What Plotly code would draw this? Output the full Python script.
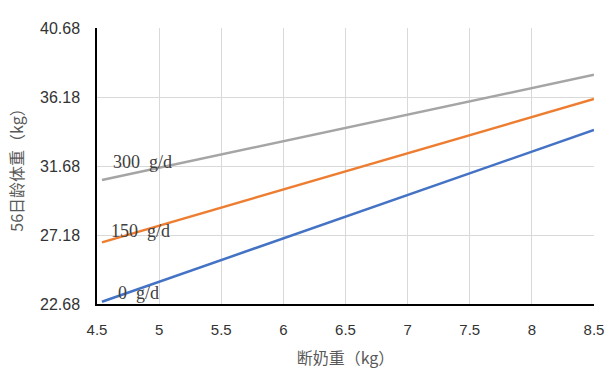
import plotly.graph_objects as go

# Data
x_vals = [4.54, 8.5]
series_names = ["0 g/d", "150 g/d", "300 g/d"]
y_0 = [22.83, 34.03]
y_150 = [26.70, 36.05]
y_300 = [30.77, 37.63]
colors = ["#4472C4", "#ED7D31", "#A5A5A5"]

label_texts = ["0\u00a0\u00a0g/d", "150\u00a0\u00a0g/d", "300\u00a0\u00a0g/d"]
label_x = [4.83, 4.85, 4.87]
label_y = [23.42, 27.46, 31.96]

y_ticks = [22.68, 27.18, 31.68, 36.18, 40.68]
x_ticks = [4.5, 5, 5.5, 6, 6.5, 7, 7.5, 8, 8.5]

fig = go.Figure()
for name, ys, c in zip(series_names, [y_0, y_150, y_300], colors):
    fig.add_trace(go.Scatter(x=x_vals, y=ys, mode="lines", name=name,
                             line=dict(color=c, width=2.5), showlegend=False))

for t, lx, ly in zip(label_texts, label_x, label_y):
    fig.add_annotation(x=lx, y=ly, text=t, showarrow=False,
                       font=dict(family="Liberation Serif", size=18, color="#404040"))

fig.update_layout(
    width=607, height=378,
    margin=dict(l=97, r=13, t=28, b=74),
    paper_bgcolor="white", plot_bgcolor="white",
    font=dict(family="Liberation Sans", color="#404040"),
)
fig.update_xaxes(range=[4.5, 8.5], tickvals=x_ticks, ticktext=[str(v) for v in x_ticks],
                 showgrid=True, gridcolor="#D9D9D9", gridwidth=1,
                 showline=True, linecolor="black", linewidth=1.5,
                 ticks="", tickfont=dict(size=15, color="#333333"), ticklabelstandoff=11,
                 title=dict(text="断奶重（kg）", font=dict(family="Noto Sans CJK SC", size=16, color="#595959"), standoff=16),
                 zeroline=False, automargin=False)
fig.update_yaxes(range=[22.68, 40.68], tickvals=y_ticks, ticktext=[f"{v:.2f}" for v in y_ticks],
                 showgrid=True, gridcolor="#D9D9D9", gridwidth=1,
                 showline=True, linecolor="black", linewidth=1.5,
                 ticks="", tickfont=dict(size=16, color="#333333"), ticklabelstandoff=12,
                 title=dict(text="56日龄体重（kg）", font=dict(family="Noto Sans CJK SC", size=16, color="#595959"), standoff=12),
                 zeroline=False, automargin=False)

# remove the browser's default 8px body margin so the figure fills the window
fig.write_html("out.html", config={"displayModeBar": False},
               post_script="document.body.style.margin='0';document.body.style.overflow='hidden';")
